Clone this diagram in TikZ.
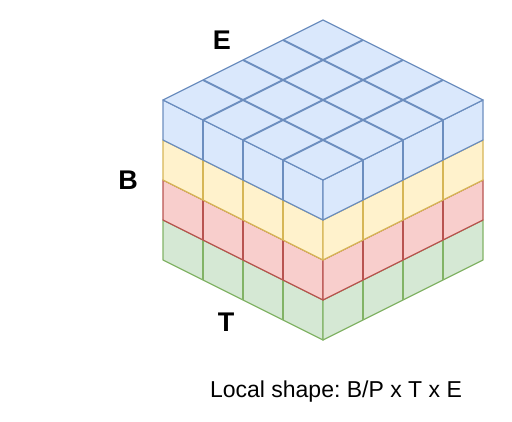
\documentclass[tikz,border=0pt]{standalone}
\usepackage{fontspec}
\setmainfont{Liberation Sans}
\frenchspacing

\definecolor{blufill}{HTML}{DAE8FC}
\definecolor{bluline}{HTML}{6C8EBF}
\definecolor{ylwfill}{HTML}{FFF2CC}
\definecolor{ylwline}{HTML}{D6B656}
\definecolor{redfill}{HTML}{F8CECC}
\definecolor{redline}{HTML}{B85450}
\definecolor{grnfill}{HTML}{D5E8D4}
\definecolor{grnline}{HTML}{82B366}

\begin{document}
\begin{tikzpicture}[x=1pt,y=-1pt,
	lbl/.style={font=\fontsize{27}{32}\selectfont\bfseries},
	cell/.style={line width=1.3pt,line join=round}]

\useasboundingbox (0,0) rectangle (512,422);

\begin{scope}[shift={(323,20)},x={(40pt,-20pt)},y={(-40pt,-20pt)},z={(0pt,-40pt)},cell]

% green, bottom layer
\filldraw[fill=grnfill, draw=grnline] (0,4,3) -- (4,4,3) -- (4,4,4) -- (0,4,4) -- cycle;
\filldraw[fill=grnfill, draw=grnline] (4,4,3) -- (4,0,3) -- (4,0,4) -- (4,4,4) -- cycle;
\draw[grnline] (1,4,3) -- (1,4,4) (2,4,3) -- (2,4,4) (3,4,3) -- (3,4,4);
\draw[grnline] (4,1,3) -- (4,1,4) (4,2,3) -- (4,2,4) (4,3,3) -- (4,3,4);

% red
\filldraw[fill=redfill, draw=redline] (0,4,2) -- (4,4,2) -- (4,4,3) -- (0,4,3) -- cycle;
\filldraw[fill=redfill, draw=redline] (4,4,2) -- (4,0,2) -- (4,0,3) -- (4,4,3) -- cycle;
\draw[redline] (1,4,2) -- (1,4,3) (2,4,2) -- (2,4,3) (3,4,2) -- (3,4,3);
\draw[redline] (4,1,2) -- (4,1,3) (4,2,2) -- (4,2,3) (4,3,2) -- (4,3,3);

% yellow
\filldraw[fill=ylwfill, draw=ylwline] (0,4,1) -- (4,4,1) -- (4,4,2) -- (0,4,2) -- cycle;
\filldraw[fill=ylwfill, draw=ylwline] (4,4,1) -- (4,0,1) -- (4,0,2) -- (4,4,2) -- cycle;
\draw[ylwline] (1,4,1) -- (1,4,2) (2,4,1) -- (2,4,2) (3,4,1) -- (3,4,2);
\draw[ylwline] (4,1,1) -- (4,1,2) (4,2,1) -- (4,2,2) (4,3,1) -- (4,3,2);

% blue, top layer
\filldraw[fill=blufill, draw=bluline] (0,4,0) -- (4,4,0) -- (4,4,1) -- (0,4,1) -- cycle;
\filldraw[fill=blufill, draw=bluline] (4,4,0) -- (4,0,0) -- (4,0,1) -- (4,4,1) -- cycle;
\draw[bluline] (1,4,0) -- (1,4,1) (2,4,0) -- (2,4,1) (3,4,0) -- (3,4,1);
\draw[bluline] (4,1,0) -- (4,1,1) (4,2,0) -- (4,2,1) (4,3,0) -- (4,3,1);

% top face
\filldraw[fill=blufill, draw=bluline] (0,0,0) -- (4,0,0) -- (4,4,0) -- (0,4,0) -- cycle;
\draw[bluline, line width=1.8pt] (1,0,0) -- (1,4,0) (2,0,0) -- (2,4,0) (3,0,0) -- (3,4,0);
\draw[bluline, line width=1.8pt] (0,1,0) -- (4,1,0) (0,2,0) -- (4,2,0) (0,3,0) -- (4,3,0);

\end{scope}

\node[lbl] (lblE) at (222,40) {E};
\node[lbl] (lblB) at (128,180) {B};
\node[lbl] (lblT) at (226,322) {T};

\node[font=\fontsize{23}{28}\selectfont] (shape) at (336,391.5) {Local shape: B/P x T x E};

\end{tikzpicture}
\end{document}
